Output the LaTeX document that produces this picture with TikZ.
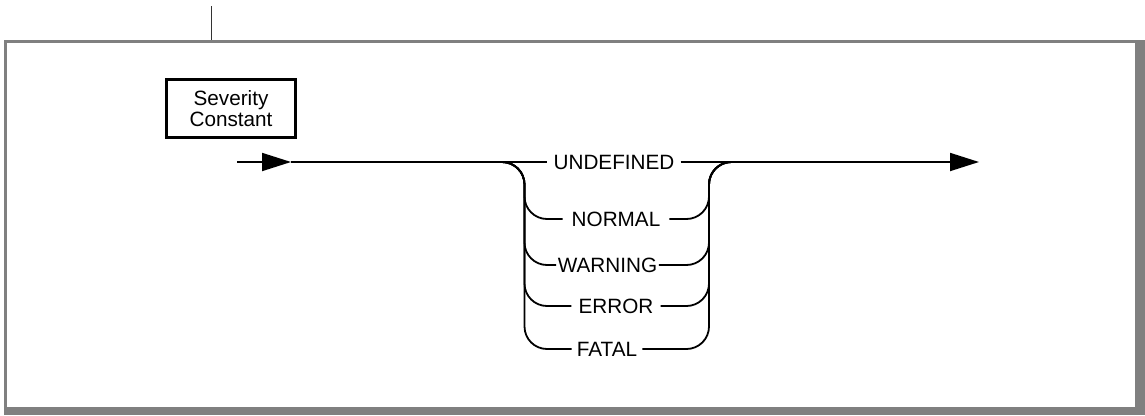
\documentclass[tikz,border=0pt]{standalone}
\usepackage{fontspec}
\setmainfont{Liberation Sans}
\usetikzlibrary{arrows.meta}
\definecolor{framegray}{RGB}{128,128,128}
\tikzset{
  rail/.style={line width=1.8pt, rounded corners=22.5pt},
  kw/.style={inner ysep=0pt, inner xsep=#1, font=\fontsize{20.7}{21.5}\selectfont},
  kw/.default=6pt,
  boxnode/.style={draw, line width=2.4pt, minimum width=129pt, minimum height=58pt, align=center, inner sep=0pt, font=\fontsize{20.7}{21.5}\selectfont},
  bigtip/.style={-{Triangle[length=29pt,width=18pt]}}
}
\begin{document}
\begin{tikzpicture}[x=1pt,y=-1pt]
\useasboundingbox (0,0) rectangle (1145,415);
% frame
\fill[framegray] (4,40) rectangle (1145,415);
\fill[white] (7,43) rectangle (1134.5,406.5);
\draw[black!80, line width=1pt] (211,6) -- (211,40);
% title box
\node[boxnode] (title) at (231,108.5) {Severity\\Constant};
% coordinates
\coordinate (in) at (237,162);
\coordinate (a1) at (291,162);
\coordinate (P) at (500,162);
\coordinate (L) at (524.5,162);
\coordinate (R) at (709,162);
\coordinate (Q) at (733,162);
\coordinate (out) at (979,162);
% keywords
\node[kw=6pt] (und) at (614,162) {UNDEFINED};
\node[kw=9pt] (nor) at (616,219) {NORMAL};
\node[kw=1.5pt] (war) at (607.5,265) {WARNING};
\node[kw=7pt] (err) at (616,306) {ERROR};
\node[kw=5pt] (fat) at (607,349) {FATAL};
% main line
\draw[line width=1.8pt, bigtip] (in) -- (a1);
\draw[line width=1.8pt] (a1) -- (und.west);
\draw[line width=1.8pt, bigtip] (und.east) -- (out);
% branches
\foreach \n in {nor,war,err,fat}{
  \draw[rail] (P) -- (L) |- (\n.west);
  \draw[rail] (\n.east) -| (R) -- (Q);
}
\end{tikzpicture}
\end{document}
